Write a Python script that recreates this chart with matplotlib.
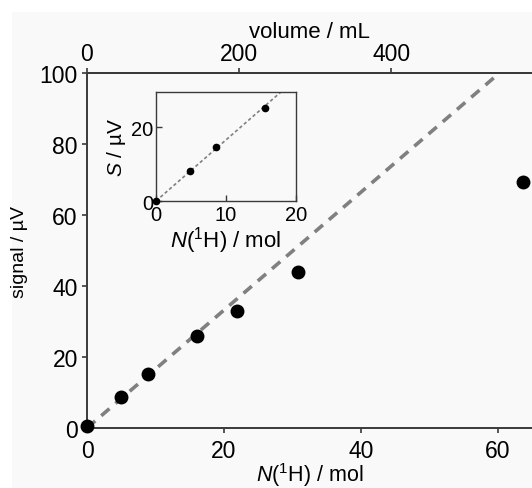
import matplotlib.pyplot as plt
import matplotlib.patches as mpatches
import numpy as np

plt.rcParams['font.family'] = ['Liberation Sans', 'DejaVu Sans']
plt.rcParams['mathtext.fontset'] = 'custom'
plt.rcParams['mathtext.rm'] = 'Liberation Sans'
plt.rcParams['mathtext.it'] = 'Liberation Sans:italic'

# data
n_main = [0.0, 5.0, 8.9, 16.0, 21.9, 30.8, 63.7]
signal_main = [0.5, 8.7, 15.2, 26.0, 32.9, 44.0, 69.2]
n_inset = [0.0, 4.8, 8.5, 15.6]
signal_inset = [0.0, 8.2, 14.7, 25.4]
slope = 1.66          # fitted line, µV per mol
ml_per_mol = 9.0      # top axis conversion

fig = plt.figure(figsize=(5.32, 4.89), dpi=100, facecolor='white')
fig.patches.append(mpatches.Rectangle((12 / 532, 0), 1, 1 - 13 / 489,
                                      transform=fig.transFigure,
                                      facecolor='#f9f9f9', edgecolor='none', zorder=-10))

axc = '#3a3a3a'
ax = fig.add_axes([87 / 532, 1 - 429 / 489, 1 - 87 / 532, (429 - 74) / 489])
ax.set_facecolor('none')
xl = np.array([0, 70])
ax.plot(xl, slope * xl, ls=(0, (3, 2.2)), color='#808080', lw=2.6, zorder=1)
ax.plot(n_main, signal_main, 'o', color='black', ms=9, zorder=3, clip_on=False)
ax.set_xlim(0, 65)
ax.set_ylim(0, 100)
ax.set_xticks([0, 20, 40, 60])
ax.set_yticks([0, 20, 40, 60, 80, 100])
for s in ['left', 'bottom', 'top']:
    ax.spines[s].set_color(axc)
    ax.spines[s].set_linewidth(1.4)
ax.spines['right'].set_visible(False)
ax.tick_params(direction='out', length=3.6, width=1.2, color=axc, labelsize=16.5, pad=3)
ax.tick_params(axis='x', pad=4)
ax.set_xlabel(r'$N$($^{1}$H) / mol', fontsize=15.5, labelpad=-1)
ax.set_ylabel('signal / µV', fontsize=14, labelpad=8)

top = ax.secondary_xaxis('top', functions=(lambda x: x * ml_per_mol, lambda v: v / ml_per_mol))
top.set_xticks([0, 200, 400])
top.spines['top'].set_color(axc)
top.spines['top'].set_linewidth(1.4)
top.tick_params(direction='out', length=3.6, width=1.2, color=axc, labelsize=16.5, pad=2)
top.set_xlabel('volume / mL', fontsize=16, labelpad=4)

ins = fig.add_axes([156 / 532, 1 - 202 / 489, (296 - 156) / 532, (202 - 92.7) / 489])
ins.set_facecolor('none')
xi = np.array([0, 20])
ins.plot(xi, slope * xi, ls=(0, (2, 1.5)), color='#808080', lw=1.2, zorder=1)
ins.plot(n_inset, signal_inset, 'o', color='black', ms=4.5, zorder=3, clip_on=False)
ins.set_xlim(0, 20)
ins.set_ylim(0, 29.7)
ins.set_xticks([0, 10, 20])
ins.set_yticks([0, 20])
for s in ins.spines.values():
    s.set_color(axc)
    s.set_linewidth(1.0)
ins.tick_params(direction='in', length=4, width=1.0, color=axc, labelsize=14.5, pad=2)
ins.tick_params(axis='x', pad=3)
ins.set_xlabel(r'$N$($^{1}$H) / mol', fontsize=16, labelpad=0)
ins.set_ylabel(r'$S$ / µV', fontsize=15, labelpad=2)

fig.savefig('out.png', dpi=100, facecolor=fig.get_facecolor())
